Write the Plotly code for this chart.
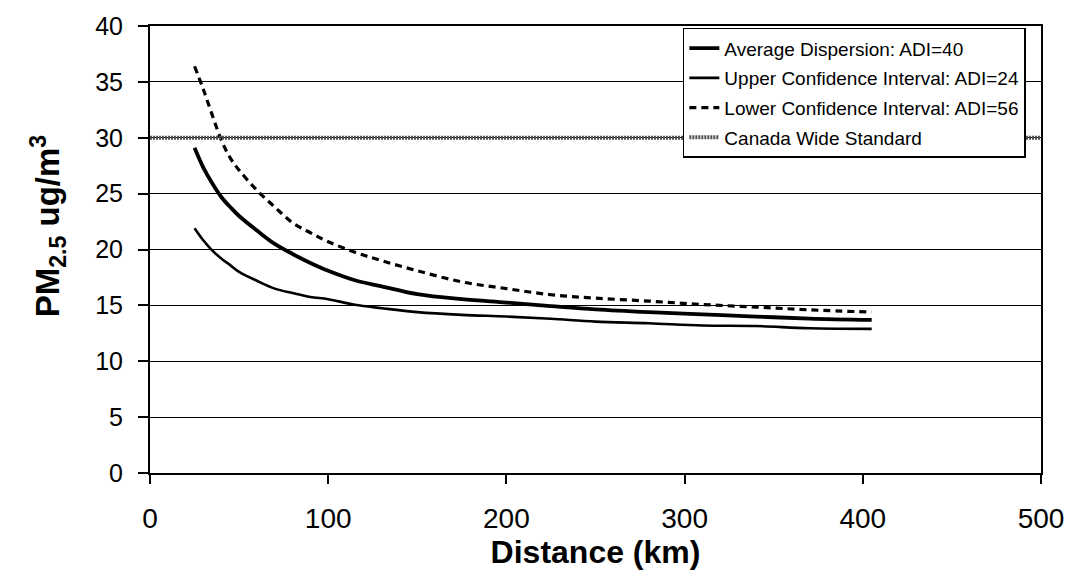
import plotly.graph_objects as go

# Distance (km)
distance = [25, 30, 35, 40, 45, 50, 60, 70, 80, 90, 100, 115, 130, 150, 175,
            200, 225, 250, 280, 310, 340, 370, 405]

# PM2.5 (ug/m3)
avg_adi40 = [29.1, 27.3, 25.9, 24.7, 23.8, 23.0, 21.7, 20.5, 19.6, 18.8, 18.1,
             17.25, 16.7, 16.0, 15.55, 15.25, 14.94, 14.65, 14.4, 14.2, 14.0,
             13.82, 13.7]
upper_adi24 = [21.9, 20.8, 19.9, 19.2, 18.6, 18.0, 17.2, 16.5, 16.1, 15.75, 15.55,
               15.05, 14.75, 14.4, 14.15, 14.0, 13.8, 13.55, 13.4, 13.2, 13.15,
               12.95, 12.9]
lower_adi56 = [36.4, 34.3, 32.0, 29.8, 28.2, 27.1, 25.3, 23.8, 22.4, 21.5, 20.7,
               19.75, 19.0, 18.1, 17.1, 16.5, 15.95, 15.65, 15.38, 15.08, 14.85,
               14.6, 14.4]
standard_x = [0, 500]
standard_y = [30, 30]

x_ticks = [0, 100, 200, 300, 400, 500]
y_ticks = [0, 5, 10, 15, 20, 25, 30, 35, 40]

FONT = "Liberation Sans, Arial, sans-serif"

fig = go.Figure()
fig.add_trace(go.Scatter(x=distance, y=avg_adi40, mode="lines",
                         name="Average Dispersion: ADI=40", legendgroup="a",
                         line=dict(color="black", width=3.8, shape="spline")))
fig.add_trace(go.Scatter(x=distance, y=upper_adi24, mode="lines",
                         name="Upper Confidence Interval: ADI=24", legendgroup="b",
                         line=dict(color="black", width=2.6, shape="spline")))
fig.add_trace(go.Scatter(x=distance, y=lower_adi56, mode="lines",
                         name="Lower Confidence Interval: ADI=56", legendgroup="c",
                         line=dict(color="black", width=3.2, dash="7px,5px", shape="spline")))
fig.add_trace(go.Scatter(x=standard_x, y=standard_y, mode="lines",
                         name="Canada Wide Standard", legendgroup="d",
                         line=dict(color="#505050", width=4, dash="2px,1px")))

fig.add_annotation(text="<b>PM<sub>2.5</sub> ug/m<sup>3</sup></b>",
                   xref="paper", yref="paper", x=-0.114, y=0.553,
                   xanchor="center", yanchor="middle", textangle=-90,
                   showarrow=False, font=dict(size=33, family=FONT, color="black"))

fig.update_layout(
    width=1077, height=584,
    margin=dict(l=150, r=36, t=19, b=111),
    paper_bgcolor="white", plot_bgcolor="white",
    font=dict(family=FONT, color="black"),
    showlegend=True,
    legend=dict(x=0.983, y=0.996, xanchor="right", yanchor="top",
                bgcolor="white", bordercolor="black", borderwidth=1.5,
                font=dict(size=19, family=FONT, color="black"),
                traceorder="grouped", tracegroupgap=2),
    xaxis=dict(range=[0, 500], tickvals=x_ticks, showgrid=False, zeroline=False,
               showline=True, linecolor="black", linewidth=2, mirror=True,
               ticks="outside", ticklen=9, tickwidth=1.5, tickcolor="black",
               ticklabelstandoff=10,
               tickfont=dict(size=28, family=FONT),
               title=dict(text="<b>Distance (km)</b>", font=dict(size=32, family=FONT),
                          standoff=4)),
    yaxis=dict(range=[0, 40], tickvals=y_ticks, showgrid=True, gridcolor="black",
               gridwidth=1.3, zeroline=False,
               showline=True, linecolor="black", linewidth=2, mirror=True,
               ticks="outside", ticklen=10, tickwidth=1.5, tickcolor="black",
               ticklabelstandoff=10,
               tickfont=dict(size=25, family=FONT)),
)

fig.write_html("out.html")
